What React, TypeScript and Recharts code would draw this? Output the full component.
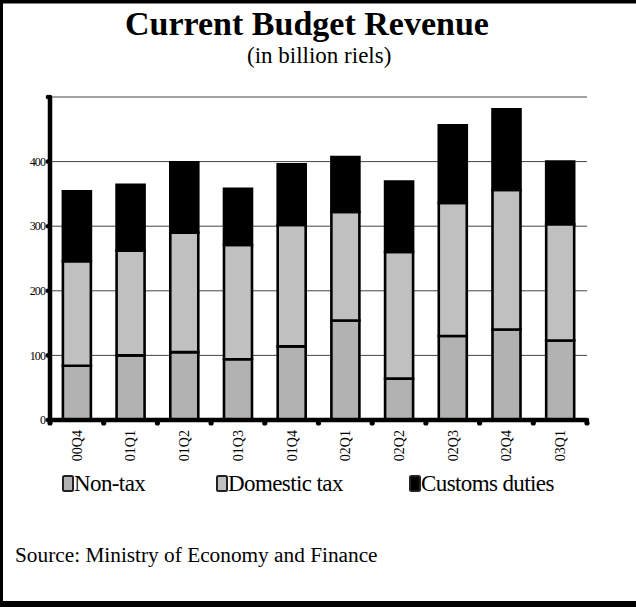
import { BarChart, Bar, XAxis, YAxis, CartesianGrid, ReferenceLine } from "recharts";

// quarterly revenue, billion riels
const QUARTERS = ["00Q4", "01Q1", "01Q2", "01Q3", "01Q4", "02Q1", "02Q2", "02Q3", "02Q4", "03Q1"];
const NON_TAX = [84, 100, 105, 94, 114, 154, 64, 130, 140, 123];
const DOMESTIC_TAX = [162, 162, 185, 177, 188, 168, 196, 206, 216, 180];
const CUSTOMS_DUTIES = [108, 102, 109, 87, 94, 85, 109, 120, 125, 97];
const Y_TICKS = [0, 100, 200, 300, 400, 500];
const LAST_LABELLED = 400;

const W = 636;
const H = 607;
const PLOT_LEFT = 50;
const PLOT_RIGHT = 587;
const PLOT_TOP = 97;
const PLOT_BOTTOM = 420;
const BAND = (PLOT_RIGHT - PLOT_LEFT) / QUARTERS.length;
const SERIF = '"Liberation Serif", "Times New Roman", serif';

const data = QUARTERS.map((q, i) => ({
    quarter: q,
    nonTax: NON_TAX[i],
    domestic: DOMESTIC_TAX[i],
    customs: CUSTOMS_DUTIES[i],
}));

function QuarterTick(props: any) {
    const { x, y, payload, index } = props;
    return (
        <g>
            <circle cx={x - BAND / 2} cy={PLOT_BOTTOM + 3} r={2.6} fill="#000" />
            {index === QUARTERS.length - 1 && (
                <circle cx={x + BAND / 2} cy={PLOT_BOTTOM + 3} r={2.6} fill="#000" />
            )}
            <text
                x={x}
                y={y}
                transform={`rotate(-90 ${x} ${y})`}
                textAnchor="end"
                dy="0.35em"
                fontSize={14}
                fontFamily={SERIF}
                fill="#000"
            >
                {payload.value}
            </text>
        </g>
    );
}

function ValueTick(props: any) {
    const { x, y, payload } = props;
    return (
        <g>
            <circle cx={PLOT_LEFT - 2} cy={y} r={2.3} fill="#000" />
            {payload.value <= LAST_LABELLED && (
                <text
                    x={x}
                    y={y}
                    dy="0.35em"
                    textAnchor="end"
                    fontSize={12}
                    letterSpacing={-0.9}
                    fontFamily={SERIF}
                    fill="#000"
                >
                    {payload.value}
                </text>
            )}
        </g>
    );
}

const LEGEND = [
    { label: "Non-tax", fill: "#b2b2b2", x: 62 },
    { label: "Domestic tax", fill: "#c0c0c0", x: 216 },
    { label: "Customs duties", fill: "#000", x: 409 },
];

export default function App() {
    return (
        <div
            style={{
                position: "absolute",
                left: 0,
                top: 0,
                width: W,
                height: H,
                background: "#fff",
            }}
        >
            <BarChart
                width={W}
                height={H}
                data={data}
                margin={{ top: PLOT_TOP, right: W - PLOT_RIGHT, bottom: 0, left: 0 }}
                barCategoryGap="24%"
            >
                <CartesianGrid vertical={false} stroke="#444" strokeWidth={1} />
                <XAxis
                    dataKey="quarter"
                    height={H - PLOT_BOTTOM}
                    interval={0}
                    tickLine={false}
                    tickSize={0}
                    tickMargin={10}
                    axisLine={false}
                    tick={<QuarterTick />}
                />
                <YAxis
                    type="number"
                    domain={[0, 500]}
                    ticks={Y_TICKS}
                    interval={0}
                    width={PLOT_LEFT}
                    tickLine={false}
                    tickSize={0}
                    tickMargin={5}
                    axisLine={false}
                    tick={<ValueTick />}
                />
                <Bar dataKey="nonTax" stackId="a" fill="#b2b2b2" stroke="#000" strokeWidth={2.6} isAnimationActive={false} />
                <Bar dataKey="domestic" stackId="a" fill="#c0c0c0" stroke="#000" strokeWidth={2.6} isAnimationActive={false} />
                <Bar dataKey="customs" stackId="a" fill="#000" stroke="#000" strokeWidth={2.6} isAnimationActive={false} />
                {/* heavy axis lines, drawn last so they sit over the bar outlines */}
                <ReferenceLine y={0} stroke="#000" strokeWidth={4.5} strokeLinecap="round" />
                <ReferenceLine x={QUARTERS[0]} position="start" stroke="#000" strokeWidth={4.5} strokeLinecap="round" />
            </BarChart>

            <svg
                width={W}
                height={H}
                style={{ position: "absolute", left: 0, top: 0, pointerEvents: "none" }}
            >
                <rect x={0} y={0} width={W} height={3.5} fill="#000" />
                <rect x={0} y={0} width={3} height={H} fill="#000" />
                <rect x={0} y={601} width={W} height={6} fill="#000" />

                <text x={125} y={35} fontSize={34} fontWeight="bold" fontFamily={SERIF} fill="#000">
                    Current Budget Revenue
                </text>
                <text x={247} y={63} fontSize={23} fontFamily={SERIF} fill="#000">
                    (in billion riels)
                </text>

                {LEGEND.map((item) => (
                    <g key={item.label}>
                        <rect
                            x={item.x + 1}
                            y={476}
                            width={10}
                            height={15}
                            rx={1.5}
                            fill={item.fill}
                            stroke="#222"
                            strokeWidth={2}
                        />
                        <text
                            x={item.x + 12}
                            y={491}
                            fontSize={23}
                            letterSpacing={-0.6}
                            fontFamily={SERIF}
                            fill="#000"
                        >
                            {item.label}
                        </text>
                    </g>
                ))}

                <text x={15} y={562} fontSize={21.3} fontFamily={SERIF} fill="#000">
                    Source: Ministry of Economy and Finance
                </text>
            </svg>
        </div>
    );
}
